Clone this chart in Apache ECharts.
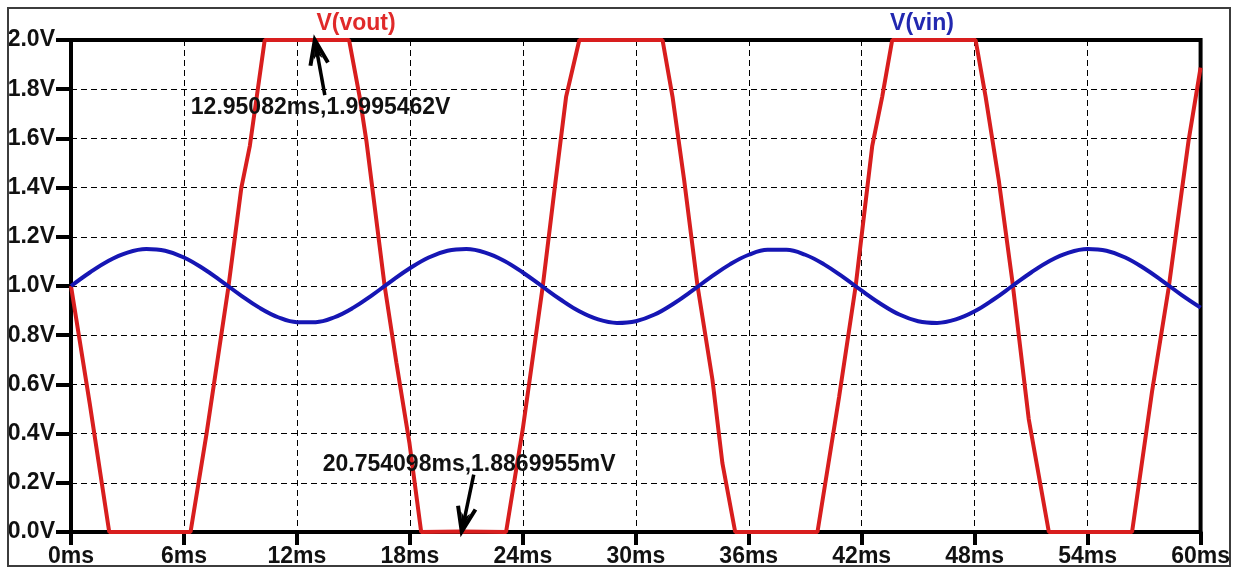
<!DOCTYPE html>
<html>
<head>
<meta charset="utf-8">
<title>V(vout) / V(vin)</title>
<script src="https://cdn.jsdelivr.net/npm/echarts@6/dist/echarts.min.js"></script>
<style>
  html, body { margin: 0; padding: 0; background: #ffffff; }
  #chart { width: 1233px; height: 570px; }
</style>
</head>
<body>
<div id="chart"></div>
<script>
// Transient simulation traces (time in ms, voltage in V)
const voutTime = [0, 1.0, 2.03, 6.35, 7.2, 8.35, 9.05, 9.5, 10.29, 12.95082, 14.77, 15.33, 15.69, 16.66, 17.28, 17.98, 18.6, 20.754098, 23.11, 24.0, 25.06, 25.68, 26.3, 27.0, 31.42, 31.95, 32.57, 33.28, 34.07, 34.6, 35.28, 39.65, 40.8, 41.68, 42.56, 43.09, 43.62, 48.05, 48.58, 49.28, 50.0, 50.87, 51.94, 56.36, 57.42, 58.3, 59.36, 60];
const voutVolt = [1.0, 0.52, 0, 0, 0.40, 0.99, 1.40, 1.57, 2.0, 1.9995462, 2.0, 1.77, 1.59, 1.0, 0.69, 0.36, 0, 0.0018869955, 0, 0.42, 1.0, 1.39, 1.77, 2.0, 2.0, 1.77, 1.43, 1.0, 0.62, 0.28, 0, 0, 0.55, 1.0, 1.57, 1.77, 2.0, 2.0, 1.77, 1.43, 1.02, 0.46, 0, 0, 0.57, 0.99, 1.59, 1.888];

const vinTime = [0, 1, 2, 3, 4, 5, 6, 7, 8, 9, 10, 11, 12, 13, 14, 15, 16, 17, 18, 19, 20, 21, 22, 23, 24, 25, 26, 27, 28, 29, 30, 31, 32, 33, 34, 35, 36, 37, 38, 39, 40, 41, 42, 43, 44, 45, 46, 47, 48, 49, 50, 51, 52, 53, 54, 55, 56, 57, 58, 59, 60];
const vinVolt = [1.000, 1.055, 1.103, 1.136, 1.150, 1.143, 1.116, 1.072, 1.019, 0.963, 0.912, 0.873, 0.853, 0.853, 0.873, 0.912, 0.963, 1.019, 1.072, 1.116, 1.143, 1.150, 1.136, 1.103, 1.055, 1.000, 0.945, 0.897, 0.864, 0.850, 0.857, 0.884, 0.928, 0.981, 1.037, 1.088, 1.127, 1.147, 1.147, 1.127, 1.088, 1.037, 0.981, 0.928, 0.884, 0.857, 0.850, 0.864, 0.897, 0.945, 1.000, 1.055, 1.103, 1.136, 1.150, 1.143, 1.116, 1.072, 1.019, 0.963, 0.912];

const traceNames = ['V(vout)', 'V(vin)'];
const traceColors = ['#d81e1e', '#1616b4'];

// Cursor readouts: [time ms, value V, text]
const cursorPoints = [
  [12.95082, 1.9995462, '12.95082ms,1.9995462V'],
  [20.754098, 0.0018869955, '20.754098ms,1.8869955mV']
];

const FONT = '"Liberation Sans", Arial, sans-serif';

function pairs(xs, ys) { return xs.map((x, i) => [x, ys[i]]); }

const chart = echarts.init(document.getElementById('chart'), null, { renderer: 'canvas' });

chart.setOption({
  backgroundColor: '#ffffff',
  animation: false,
  title: [
    { text: traceNames[0], left: 351, top: 7, textAlign: 'center',
      textStyle: { color: '#e02a2a', fontSize: 23, fontWeight: 'bold', fontFamily: FONT } },
    { text: traceNames[1], left: 917, top: 7, textAlign: 'center',
      textStyle: { color: '#2228b0', fontSize: 23, fontWeight: 'bold', fontFamily: FONT } }
  ],
  grid: {
    left: 71, right: 31, top: 40, bottom: 38,
    show: true, borderColor: '#000', borderWidth: 4, backgroundColor: '#fff'
  },
  xAxis: {
    type: 'value', min: 0, max: 60, interval: 6,
    axisLine: { show: true, lineStyle: { color: '#000', width: 4 } },
    axisTick: { show: true, length: 13, lineStyle: { color: '#000', width: 4 } },
    axisLabel: {
      margin: 13, color: '#111', fontSize: 23, fontWeight: 'bold', fontFamily: FONT,
      formatter: v => v + 'ms'
    },
    splitLine: { show: true, lineStyle: { color: '#000', width: 1, type: [6, 4] } }
  },
  yAxis: {
    type: 'value', min: 0, max: 2, interval: 0.2,
    axisLine: { show: true, lineStyle: { color: '#000', width: 4 } },
    axisTick: { show: true, length: 15, lineStyle: { color: '#000', width: 4 } },
    axisLabel: {
      margin: 16, color: '#111', fontSize: 23, fontWeight: 'bold', fontFamily: FONT,
      formatter: v => v.toFixed(1) + 'V'
    },
    splitLine: { show: true, lineStyle: { color: '#000', width: 1, type: [6, 4] } }
  },
  series: [
    {
      name: traceNames[0], type: 'line', data: pairs(voutTime, voutVolt),
      showSymbol: false, clip: false,
      lineStyle: { color: traceColors[0], width: 4 }, z: 3
    },
    {
      name: traceNames[1], type: 'line', data: pairs(vinTime, vinVolt),
      showSymbol: false, clip: false, smooth: 0.4,
      lineStyle: { color: traceColors[1], width: 4 }, z: 4
    }
  ]
});

// Outer frame plus cursor arrows and readouts, placed from the axis scales
const frame = {
  type: 'rect', shape: { x: 8, y: 8, width: 1222, height: 558 },
  style: { fill: null, stroke: '#3c3c3c', lineWidth: 2 }, z: 100
};

const arrowSpecs = [
  { tail: [10, 55], text: [-124, 68] },
  { tail: [12, -57], text: [-139, -67] }
];

function arrowGraphics(tip, spec, label) {
  const tail = [tip[0] + spec.tail[0], tip[1] + spec.tail[1]];
  const dx = tail[0] - tip[0], dy = tail[1] - tip[1];
  const len = Math.hypot(dx, dy);
  const ux = dx / len, uy = dy / len;
  const headLen = 26, ang = 20 * Math.PI / 180;
  const rot = a => [tip[0] + headLen * (ux * Math.cos(a) - uy * Math.sin(a)),
                    tip[1] + headLen * (ux * Math.sin(a) + uy * Math.cos(a))];
  const b1 = rot(ang), b2 = rot(-ang);
  const mid = [tip[0] + ux * 14, tip[1] + uy * 14];
  return [
    { type: 'polyline', shape: { points: [tail, tip] },
      style: { stroke: '#000', lineWidth: 3.5, fill: null }, z: 50 },
    { type: 'polyline', shape: { points: [b1, tip, b2] },
      style: { stroke: '#000', lineWidth: 4, fill: null, lineJoin: 'miter' }, z: 50 },
    { type: 'polygon', shape: { points: [tip, [ (b1[0] + mid[0]) / 2, (b1[1] + mid[1]) / 2 ], mid, [ (b2[0] + mid[0]) / 2, (b2[1] + mid[1]) / 2 ]] },
      style: { fill: '#000' }, z: 50 },
    { type: 'text', x: tip[0] + spec.text[0], y: tip[1] + spec.text[1],
      style: { text: label, fill: '#111', font: 'bold 23px ' + FONT,
               textAlign: 'left', textVerticalAlign: 'middle' }, z: 50 }
  ];
}

const graphics = [frame];
cursorPoints.forEach((p, i) => {
  const tip = chart.convertToPixel({ gridIndex: 0 }, [p[0], p[1]]);
  graphics.push(...arrowGraphics(tip, arrowSpecs[i], p[2]));
});
chart.setOption({ graphic: graphics });
</script>
</body>
</html>
